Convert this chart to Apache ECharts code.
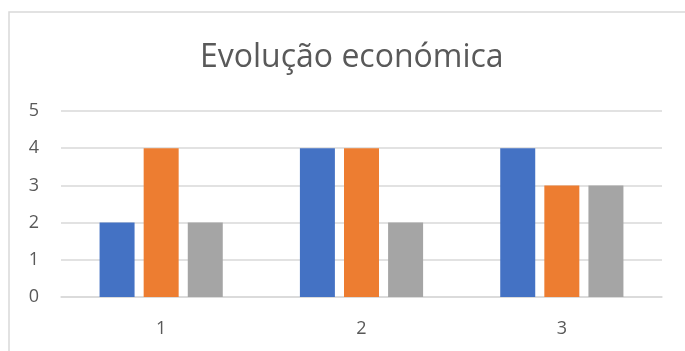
<!DOCTYPE html>
<html>
<head>
<meta charset="utf-8">
<script src="https://cdn.jsdelivr.net/npm/echarts@6/dist/echarts.min.js"></script>
<style>
  html, body { margin: 0; padding: 0; background: #fff; }
  #chart { width: 685px; height: 351px; }
</style>
</head>
<body>
<div id="chart"></div>
<script>
// Chart data
const categories = ['1', '2', '3'];
const serie1 = [2, 4, 4];
const serie2 = [4, 4, 3];
const serie3 = [2, 2, 3];
const yTicks = { min: 0, max: 5, interval: 1 };

const chart = echarts.init(document.getElementById('chart'), null, { renderer: 'canvas' });

const barStyle = (color) => ({
  type: 'bar',
  barWidth: 35,
  barGap: '26%',
  itemStyle: { color: color },
  emphasis: { disabled: true }
});

chart.setOption({
  animation: false,
  textStyle: { fontFamily: 'Open Sans, sans-serif' },
  graphic: [{
    type: 'rect',
    shape: { x: 9, y: 12, width: 700, height: 360 },
    style: { fill: 'none', stroke: '#d9d9d9', lineWidth: 1.5 },
    silent: true
  }],
  title: {
    text: 'Evolução económica',
    left: 195,
    top: 37,
    textStyle: { color: '#595959', fontSize: 32, fontWeight: 'normal', fontFamily: 'Open Sans, sans-serif' }
  },
  grid: { left: 61, right: 23, top: 111, bottom: 54, containLabel: false },
  xAxis: {
    type: 'category',
    data: categories,
    axisLine: { lineStyle: { color: '#d9d9d9', width: 1.5 } },
    axisTick: { show: false },
    axisLabel: { color: '#595959', fontSize: 18, margin: 23 }
  },
  yAxis: {
    type: 'value',
    min: yTicks.min,
    max: yTicks.max,
    interval: yTicks.interval,
    axisLine: { show: false },
    axisTick: { show: false },
    splitLine: { lineStyle: { color: '#d9d9d9', width: 1.5 } },
    axisLabel: { color: '#595959', fontSize: 18, margin: 22 }
  },
  series: [
    Object.assign(barStyle('#4472c4'), { name: 'Série 1', data: serie1 }),
    Object.assign(barStyle('#ed7d31'), { name: 'Série 2', data: serie2 }),
    Object.assign(barStyle('#a5a5a5'), { name: 'Série 3', data: serie3 })
  ]
});
</script>
</body>
</html>
